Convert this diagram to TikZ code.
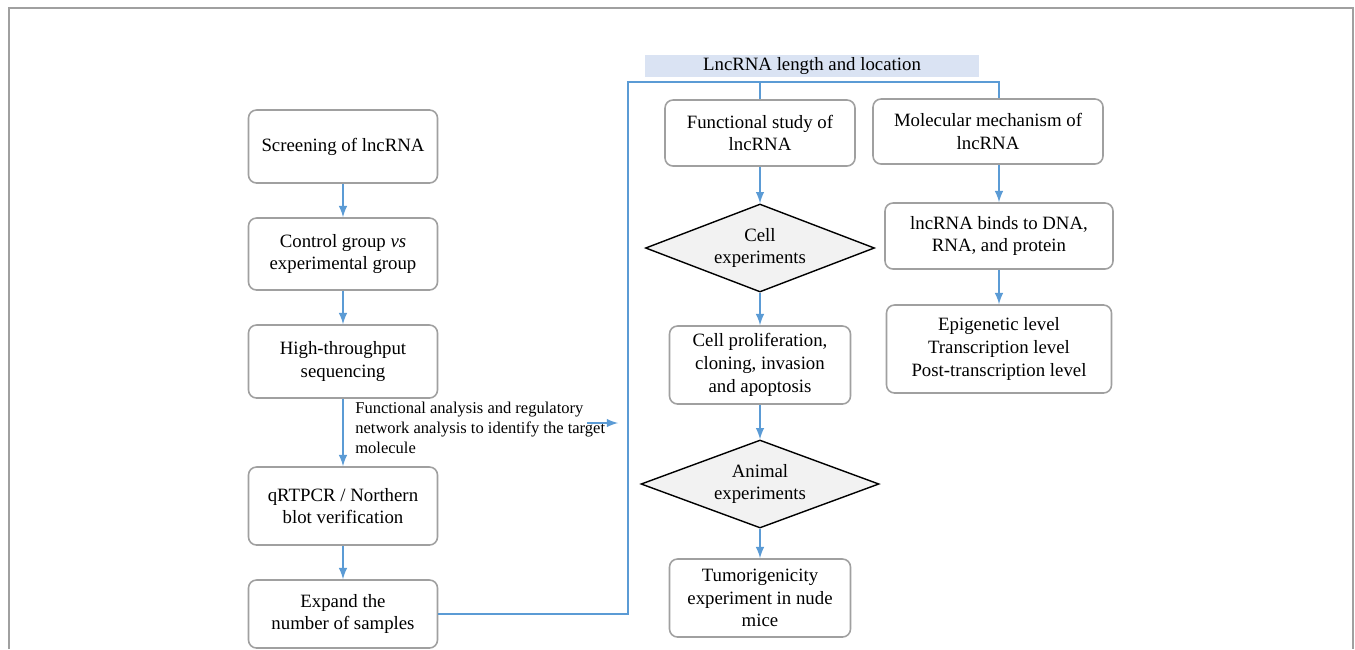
\documentclass[tikz,border=0pt]{standalone}
\usepackage{fontspec}
\setmainfont{Liberation Serif}
\usepackage{tikz}
\usetikzlibrary{shapes.geometric, arrows}
\definecolor{flowblue}{RGB}{91,155,213}
\definecolor{boxgray}{RGB}{160,160,160}
\definecolor{hdrblue}{RGB}{218,227,243}
\definecolor{decfill}{RGB}{242,242,242}
\tikzset{stepbox/.style={rectangle, draw=boxgray, line width=0.9pt,
rounded corners=0.16cm, align=center, inner sep=2pt,
font=\fontsize{10.7}{13}\selectfont}}
\tikzset{decision/.style={diamond, draw=black, fill=decfill, line width=0.8pt,
aspect=2.6, inner sep=0pt, align=center,
font=\fontsize{10.7}{13}\selectfont}}
\tikzset{flow/.style={draw=flowblue, line width=1.2pt, -latex}}
\tikzset{bus/.style={draw=flowblue, line width=1.6pt}}
\tikzset{note/.style={align=left, inner sep=0pt, font=\fontsize{9.4}{11.4}\selectfont}}

\begin{document}
\begin{tikzpicture}[
]
\useasboundingbox (0,0) rectangle (27.1,-12.98);
\draw [boxgray, line width=1pt] (0.18,-12.98) |- (27.06,-0.16) -- (27.06,-12.98);

% left column
\node[stepbox, minimum width = 3.78cm, minimum height = 1.46cm] (screen) at (6.86,-2.93) {Screening of lncRNA};
\node[stepbox, minimum width = 3.78cm, minimum height = 1.44cm] (ctrl) at (6.86,-5.08) {Control group \textit{vs}\\experimental group};
\node[stepbox, minimum width = 3.78cm, minimum height = 1.46cm] (hts) at (6.86,-7.23) {High-throughput\\sequencing};
\node[stepbox, minimum width = 3.78cm, minimum height = 1.56cm] (qpcr) at (6.86,-10.12) {qRTPCR / Northern\\blot verification};
\node[stepbox, minimum width = 3.78cm, minimum height = 1.36cm] (expand) at (6.86,-12.28) {Expand the\\number of samples};

\node[note, anchor=north west] (note) at (7.1,-8.04) {Functional analysis and regulatory\\network analysis to identify the target\\molecule};
\coordinate (ntail) at (11.74,-8.46);
\coordinate (nhead) at (12.36,-8.46);

% header
\node[rectangle, fill=hdrblue, minimum width = 6.68cm, minimum height = 0.44cm,
inner sep=0pt, font=\fontsize{10.7}{13}\selectfont] (hdr) at (16.24,-1.32) {LncRNA length and location};
\coordinate (bus) at (12.56,-1.64);

% middle column
\node[stepbox, minimum width = 3.8cm, minimum height = 1.32cm] (func) at (15.2,-2.66) {Functional study of\\lncRNA};
\node[decision, minimum width = 4.58cm, minimum height = 1.76cm] (cellexp) at (15.2,-4.96) {Cell\\experiments};
\node[stepbox, minimum width = 3.62cm, minimum height = 1.56cm] (cellpro) at (15.2,-7.3) {Cell proliferation,\\cloning, invasion\\and apoptosis};
\node[decision, minimum width = 4.76cm, minimum height = 1.76cm] (animal) at (15.2,-9.68) {Animal\\experiments};
\node[stepbox, minimum width = 3.62cm, minimum height = 1.56cm] (tumor) at (15.2,-11.96) {Tumorigenicity\\experiment in nude\\mice};

% right column
\node[stepbox, minimum width = 4.6cm, minimum height = 1.3cm] (mol) at (19.76,-2.63) {Molecular mechanism of\\lncRNA};
\node[stepbox, minimum width = 4.56cm, minimum height = 1.32cm] (binds) at (19.98,-4.72) {lncRNA binds to DNA,\\RNA, and protein};
\node[stepbox, minimum width = 4.5cm, minimum height = 1.76cm] (levels) at (19.98,-6.98) {Epigenetic level\\Transcription level\\Post-transcription level};

\draw [flow] (screen) -- (ctrl);
\draw [flow] (ctrl) -- (hts);
\draw [flow] (hts) -- (qpcr);
\draw [flow] (qpcr) -- (expand);
\draw [flow] (ntail) -- (nhead);

\draw [bus] (expand.east) -| (bus) -| (binds.north |- mol.north);
\draw [bus] (func.north) -- (func.north |- bus);

\draw [flow] (func) -- (cellexp);
\draw [flow] (cellexp) -- (cellpro);
\draw [flow] (cellpro) -- (animal);
\draw [flow] (animal) -- (tumor);
\draw [flow] (binds.north |- mol.south) -- (binds.north);
\draw [flow] (binds) -- (levels);

\end{tikzpicture}
\end{document}
